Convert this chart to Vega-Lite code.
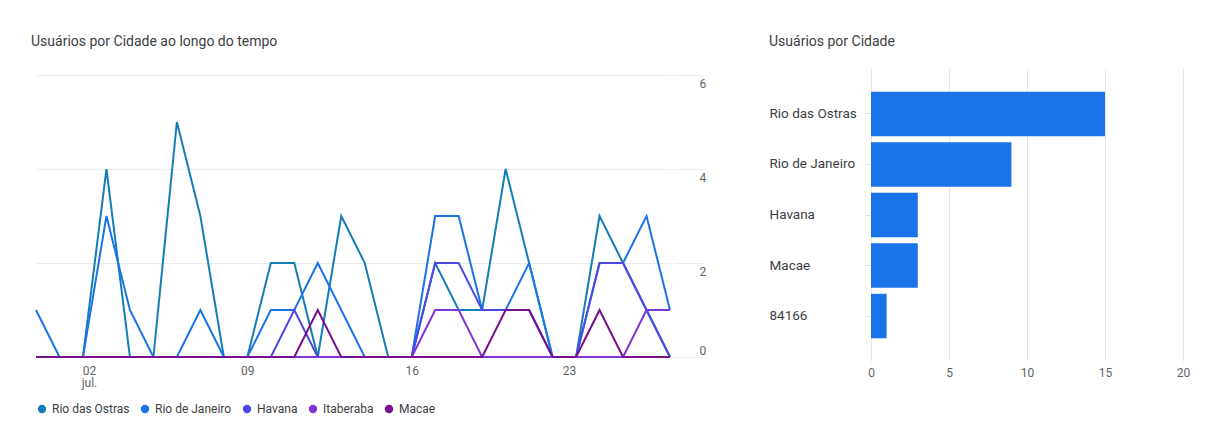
{
  "$schema": "https://vega.github.io/schema/vega-lite/v6.json",
  "background": "white",
  "padding": {"left": 31, "top": 35, "right": 10, "bottom": 5},
  "config": {
    "font": "Roboto",
    "view": {"stroke": null},
    "title": {"fontSize": 14, "fontWeight": "normal", "color": "#3c4043", "anchor": "start"}
  },
  "spacing": 63,
  "hconcat": [
    {
      "title": {"text": "Usuários por Cidade ao longo do tempo", "offset": 20, "dx": -1},
      "width": 634,
      "height": 288,
      "data": {"values": [
        {"data": "2023-06-30", "Rio das Ostras": 0, "Rio de Janeiro": 1, "Havana": 0, "Itaberaba": 0, "Macae": 0},
        {"data": "2023-07-01", "Rio das Ostras": 0, "Rio de Janeiro": 0, "Havana": 0, "Itaberaba": 0, "Macae": 0},
        {"data": "2023-07-02", "Rio das Ostras": 0, "Rio de Janeiro": 0, "Havana": 0, "Itaberaba": 0, "Macae": 0},
        {"data": "2023-07-03", "Rio das Ostras": 4, "Rio de Janeiro": 3, "Havana": 0, "Itaberaba": 0, "Macae": 0},
        {"data": "2023-07-04", "Rio das Ostras": 0, "Rio de Janeiro": 1, "Havana": 0, "Itaberaba": 0, "Macae": 0},
        {"data": "2023-07-05", "Rio das Ostras": 0, "Rio de Janeiro": 0, "Havana": 0, "Itaberaba": 0, "Macae": 0},
        {"data": "2023-07-06", "Rio das Ostras": 5, "Rio de Janeiro": 0, "Havana": 0, "Itaberaba": 0, "Macae": 0},
        {"data": "2023-07-07", "Rio das Ostras": 3, "Rio de Janeiro": 1, "Havana": 0, "Itaberaba": 0, "Macae": 0},
        {"data": "2023-07-08", "Rio das Ostras": 0, "Rio de Janeiro": 0, "Havana": 0, "Itaberaba": 0, "Macae": 0},
        {"data": "2023-07-09", "Rio das Ostras": 0, "Rio de Janeiro": 0, "Havana": 0, "Itaberaba": 0, "Macae": 0},
        {"data": "2023-07-10", "Rio das Ostras": 2, "Rio de Janeiro": 1, "Havana": 0, "Itaberaba": 0, "Macae": 0},
        {"data": "2023-07-11", "Rio das Ostras": 2, "Rio de Janeiro": 1, "Havana": 1, "Itaberaba": 0, "Macae": 0},
        {"data": "2023-07-12", "Rio das Ostras": 0, "Rio de Janeiro": 2, "Havana": 0, "Itaberaba": 0, "Macae": 1},
        {"data": "2023-07-13", "Rio das Ostras": 3, "Rio de Janeiro": 1, "Havana": 0, "Itaberaba": 0, "Macae": 0},
        {"data": "2023-07-14", "Rio das Ostras": 2, "Rio de Janeiro": 0, "Havana": 0, "Itaberaba": 0, "Macae": 0},
        {"data": "2023-07-15", "Rio das Ostras": 0, "Rio de Janeiro": 0, "Havana": 0, "Itaberaba": 0, "Macae": 0},
        {"data": "2023-07-16", "Rio das Ostras": 0, "Rio de Janeiro": 0, "Havana": 0, "Itaberaba": 0, "Macae": 0},
        {"data": "2023-07-17", "Rio das Ostras": 2, "Rio de Janeiro": 3, "Havana": 2, "Itaberaba": 1, "Macae": 0},
        {"data": "2023-07-18", "Rio das Ostras": 1, "Rio de Janeiro": 3, "Havana": 2, "Itaberaba": 1, "Macae": 0},
        {"data": "2023-07-19", "Rio das Ostras": 1, "Rio de Janeiro": 1, "Havana": 1, "Itaberaba": 0, "Macae": 0},
        {"data": "2023-07-20", "Rio das Ostras": 4, "Rio de Janeiro": 1, "Havana": 1, "Itaberaba": 0, "Macae": 1},
        {"data": "2023-07-21", "Rio das Ostras": 2, "Rio de Janeiro": 2, "Havana": 1, "Itaberaba": 0, "Macae": 1},
        {"data": "2023-07-22", "Rio das Ostras": 0, "Rio de Janeiro": 0, "Havana": 0, "Itaberaba": 0, "Macae": 0},
        {"data": "2023-07-23", "Rio das Ostras": 0, "Rio de Janeiro": 0, "Havana": 0, "Itaberaba": 0, "Macae": 0},
        {"data": "2023-07-24", "Rio das Ostras": 3, "Rio de Janeiro": 2, "Havana": 2, "Itaberaba": 0, "Macae": 1},
        {"data": "2023-07-25", "Rio das Ostras": 2, "Rio de Janeiro": 2, "Havana": 2, "Itaberaba": 0, "Macae": 0},
        {"data": "2023-07-26", "Rio das Ostras": 1, "Rio de Janeiro": 3, "Havana": 1, "Itaberaba": 1, "Macae": 0},
        {"data": "2023-07-27", "Rio das Ostras": 0, "Rio de Janeiro": 1, "Havana": 0, "Itaberaba": 1, "Macae": 0}
      ]},
      "transform": [
        {"fold": ["Rio das Ostras", "Rio de Janeiro", "Havana", "Itaberaba", "Macae"], "as": ["cidade", "usuarios"]}
      ],
      "mark": {"type": "line", "strokeWidth": 2},
      "encoding": {
        "x": {
          "field": "data",
          "type": "temporal",
          "scale": {"type": "utc", "nice": false},
          "axis": {
            "title": null,
            "grid": false,
            "ticks": false,
            "domain": false,
            "values": [
              {"year": 2023, "month": 7, "date": 2, "utc": true},
              {"year": 2023, "month": 7, "date": 9, "utc": true},
              {"year": 2023, "month": 7, "date": 16, "utc": true},
              {"year": 2023, "month": 7, "date": 23, "utc": true}
            ],
            "labelExpr": "utcFormat(datum.value, '%d') == '02' ? ['02', 'jul.'] : utcFormat(datum.value, '%d')",
            "labelOffset": {"condition": [
              {"test": "utcdate(datum.value) == 2", "value": 6},
              {"test": "utcdate(datum.value) == 23", "value": -7}
            ], "value": 0},
            "labelFontSize": 12,
            "labelColor": "#5f6368",
            "labelPadding": 8,
            "labelLineHeight": 12
          }
        },
        "y": {
          "field": "usuarios",
          "type": "quantitative",
          "scale": {"domain": [0, 6.128], "nice": false},
          "axis": {
            "title": null,
            "orient": "right",
            "values": [0, 2, 4, 6],
            "grid": true,
            "gridColor": "#ebebeb",
            "domain": false,
            "ticks": true,
            "tickSize": 30,
            "tickColor": "#ebebeb",
            "offset": 3,
            "labelPadding": -4,
            "labelAlign": "left",
            "labelBaseline": {"condition": {"test": "datum.value == 0", "value": "bottom"}, "value": "top"},
            "labelOffset": {"condition": {"test": "datum.value == 0", "value": 0}, "value": 3},
            "labelFontSize": 12,
            "labelColor": "#5f6368"
          }
        },
        "color": {
          "field": "cidade",
          "type": "nominal",
          "sort": ["Rio das Ostras", "Rio de Janeiro", "Havana", "Itaberaba", "Macae"],
          "scale": {
            "domain": ["Rio das Ostras", "Rio de Janeiro", "Havana", "Itaberaba", "Macae"],
            "range": ["#137db5", "#1a73e8", "#4d47e6", "#8035d4", "#76108f"]
          },
          "legend": {
            "title": null,
            "orient": "bottom",
            "direction": "horizontal",
            "symbolType": "circle",
            "symbolSize": 70,
            "symbolStrokeWidth": 0,
            "labelFontSize": 12,
            "labelColor": "#3c4043",
            "columnPadding": 9,
            "labelOffset": 4,
            "offset": 15,
            "encode": {"symbols": {"update": {"fill": {"scale": "color", "field": "value"}, "fillOpacity": {"value": 1}}}}
          }
        }
      }
    },
    {
      "title": {"text": "Usuários por Cidade", "offset": 20},
      "width": 312,
      "height": 292,
      "data": {"values": [
        {"cidade": "Rio das Ostras", "usuarios": 15},
        {"cidade": "Rio de Janeiro", "usuarios": 9},
        {"cidade": "Havana", "usuarios": 3},
        {"cidade": "Macae", "usuarios": 3},
        {"cidade": "84166", "usuarios": 1}
      ]},
      "mark": {"type": "bar", "color": "#1a73e8"},
      "encoding": {
        "y": {
          "field": "cidade",
          "type": "nominal",
          "sort": ["Rio das Ostras", "Rio de Janeiro", "Havana", "Macae", "84166"],
          "scale": {"paddingInner": 0.12, "paddingOuter": 0.45},
          "axis": {
            "title": null,
            "domain": false,
            "ticks": true,
            "tickSize": 6,
            "tickColor": "#e0e0e0",
            "labelAlign": "left",
            "labelPadding": 96,
            "labelFontSize": 13.5,
            "labelColor": "#3c4043"
          }
        },
        "x": {
          "field": "usuarios",
          "type": "quantitative",
          "scale": {"domain": [0, 20], "nice": false},
          "axis": {
            "title": null,
            "values": [0, 5, 10, 15, 20],
            "grid": true,
            "gridColor": "#e6e6e6",
            "domain": false,
            "ticks": false,
            "labelFlush": false,
            "labelPadding": 6,
            "labelFontSize": 12,
            "labelColor": "#5f6368"
          }
        }
      }
    }
  ]
}
